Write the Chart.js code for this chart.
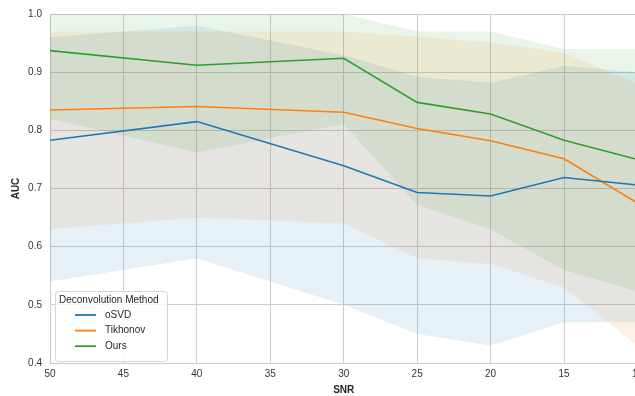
<!DOCTYPE html>
<html>
<head>
<meta charset="utf-8">
<script src="https://cdn.jsdelivr.net/npm/chart.js@4.4.1/dist/chart.umd.min.js"></script>
<style>
    html, body { margin: 0; padding: 0; background: #fff; overflow: hidden; }
    #wrap { position: relative; width: 648px; height: 396px; }
</style>
</head>
<body>
<div id="wrap"><canvas id="aucChart"></canvas></div>
<script>
// ============================================
// AUC vs SNR per deconvolution method
// ============================================

const snr = [50, 40, 30, 25, 20, 15, 10];
const xTicks = [50, 45, 40, 35, 30, 25, 20, 15, 10];
const yTicks = [0.4, 0.5, 0.6, 0.7, 0.8, 0.9, 1.0];

const methods = ['oSVD', 'Tikhonov', 'Ours'];

// mean AUC
const osvdMean = [0.783, 0.815, 0.739, 0.693, 0.687, 0.719, 0.706];
const tikhMean = [0.835, 0.841, 0.831, 0.803, 0.782, 0.751, 0.675];
const oursMean = [0.937, 0.912, 0.924, 0.848, 0.828, 0.783, 0.750];

// confidence band (low / high)
const osvdLow  = [0.54, 0.58, 0.50, 0.45, 0.43, 0.47, 0.47];
const osvdHigh = [0.96, 0.98, 0.929, 0.892, 0.882, 0.911, 0.90];
const tikhLow  = [0.63, 0.65, 0.64, 0.58, 0.57, 0.53, 0.43];
const tikhHigh = [0.97, 0.97, 0.97, 0.961, 0.951, 0.933, 0.88];
const oursLow  = [0.82, 0.762, 0.811, 0.672, 0.63, 0.56, 0.523];
const oursHigh = [1.0, 1.0, 1.0, 0.97, 0.97, 0.94, 0.94];

const colors = ['#1f77b4', '#ff7f0e', '#2ca02c'];
const bandColors = ['rgba(31,119,180,0.11)', 'rgba(255,127,14,0.11)', 'rgba(44,160,44,0.11)'];

const FONT = '"Liberation Sans", Arial, sans-serif';

const toPoints = (vals) => vals.map((v, i) => ({ x: snr[i], y: v }));

const means = [osvdMean, tikhMean, oursMean];
const lows = [osvdLow, tikhLow, oursLow];
const highs = [osvdHigh, tikhHigh, oursHigh];

const datasets = [];

// mean lines (drawn on top)
methods.forEach((name, i) => {
    datasets.push({
        label: name,
        data: toPoints(means[i]),
        borderColor: colors[i],
        backgroundColor: colors[i],
        borderWidth: 1.6,
        pointRadius: 0,
        fill: false,
        tension: 0,
        order: 0,
        inLegend: true
    });
});

// bands: high fills down to the low dataset right after it
methods.forEach((name, i) => {
    datasets.push({
        label: name + ' high',
        data: toPoints(highs[i]),
        borderWidth: 0,
        pointRadius: 0,
        backgroundColor: bandColors[i],
        fill: '+1',
        tension: 0,
        order: 1
    });
    datasets.push({
        label: name + ' low',
        data: toPoints(lows[i]),
        borderWidth: 0,
        pointRadius: 0,
        fill: false,
        tension: 0,
        order: 1
    });
});

// legend box inside the plot, bottom-left
const insideLegend = {
    id: 'insideLegend',
    afterDraw(chart) {
        const { ctx, chartArea } = chart;
        const items = chart.data.datasets.filter(d => d.inLegend);
        const w = 112, h = 70;
        const left = chartArea.left + 5;
        const top = chartArea.bottom - 2 - h;

        ctx.save();
        ctx.beginPath();
        ctx.roundRect(left + 0.5, top + 0.5, w, h, 3);
        ctx.fillStyle = 'rgba(255,255,255,0.8)';
        ctx.fill();
        ctx.strokeStyle = '#d6d6d6';
        ctx.lineWidth = 1;
        ctx.stroke();

        ctx.fillStyle = '#262626';
        ctx.textBaseline = 'middle';
        ctx.font = '10px ' + FONT;
        ctx.fillText('Deconvolution Method', left + 4, top + 9);

        items.forEach((d, i) => {
            const y = top + 24 + i * 15.6;
            ctx.beginPath();
            ctx.moveTo(left + 20, y);
            ctx.lineTo(left + 41, y);
            ctx.strokeStyle = d.borderColor;
            ctx.lineWidth = 1.8;
            ctx.stroke();
            ctx.fillStyle = '#262626';
            ctx.fillText(d.label, left + 50, y);
        });
        ctx.restore();
    }
};

const ctx = document.getElementById('aucChart').getContext('2d');
const aucChart = new Chart(ctx, {
    type: 'line',
    data: { datasets: datasets },
    plugins: [insideLegend],
    options: {
        responsive: true,
        maintainAspectRatio: false,
        animation: false,
        events: [],
        layout: { padding: { top: 14, left: 6, right: 0, bottom: 0 } },
        plugins: {
            legend: { display: false },
            tooltip: { enabled: false },
            filler: { propagate: false }
        },
        scales: {
            x: {
                type: 'linear',
                reverse: true,
                min: 10,
                max: 50,
                afterBuildTicks: axis => { axis.ticks = xTicks.map(v => ({ value: v })); },
                afterFit: axis => { axis.height = 33; },
                grid: { color: '#cccccc', drawTicks: false },
                border: { color: '#cccccc' },
                ticks: {
                    padding: 5,
                    color: '#333333',
                    font: { family: FONT, size: 10 },
                    maxRotation: 0
                },
                title: {
                    display: true,
                    text: 'SNR',
                    color: '#262626',
                    font: { family: FONT, size: 10, weight: 'bold' },
                    padding: { top: 4, bottom: 0 }
                }
            },
            y: {
                min: 0.4,
                max: 1.0,
                afterBuildTicks: axis => { axis.ticks = yTicks.map(v => ({ value: v })); },
                afterFit: axis => { axis.width = 44; },
                grid: { color: '#cccccc', drawTicks: false },
                border: { color: '#cccccc' },
                ticks: {
                    padding: 8,
                    color: '#333333',
                    font: { family: FONT, size: 10 },
                    callback: v => v.toFixed(1)
                },
                title: {
                    display: true,
                    text: 'AUC',
                    color: '#262626',
                    font: { family: FONT, size: 10, weight: 'bold' },
                    padding: { top: 4, bottom: 6 }
                }
            }
        }
    }
});
</script>
</body>
</html>
